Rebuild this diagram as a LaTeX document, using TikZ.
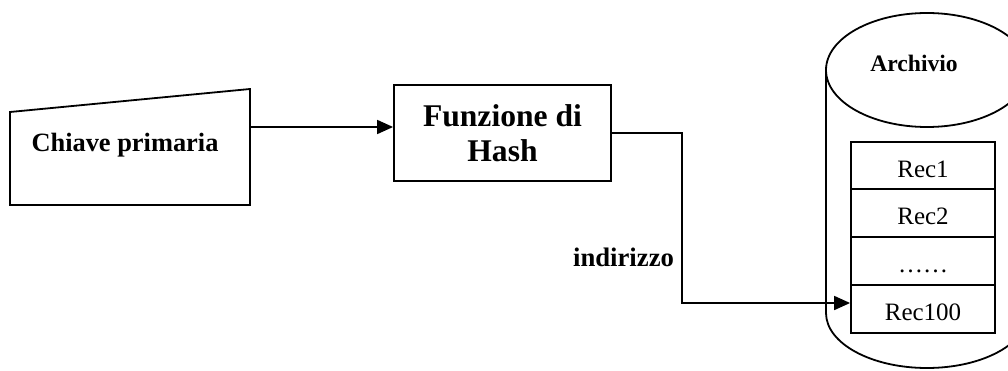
\documentclass[tikz,border=0pt]{standalone}
\usepackage{fontspec}
\setmainfont{Liberation Serif}
\usetikzlibrary{arrows.meta}
\tikzset{
  line/.style={line width=1.8pt, line join=miter},
  arr/.style={line, -{Triangle[length=16pt,width=14pt]}},
  lbl/.style={inner sep=0pt, font=\bfseries},
  recbox/.style={draw, line width=1.8pt, minimum width=144pt, minimum height=47.7pt,
                 inner sep=0pt, text height=23pt, text depth=0pt,
                 font=\fontsize{25}{28}\selectfont},
}
\begin{document}
\begin{tikzpicture}[x=1pt,y=1pt]
  \useasboundingbox (0,0) rectangle (1008,370);
  \clip (0,0) rectangle (1008,370);

  % manual-input shape holding the primary key
  \coordinate (ktl) at (10,258);
  \coordinate (ktr) at (250,281);
  \coordinate (kbr) at (250,165);
  \coordinate (kbl) at (10,165);
  \draw[line] (ktl) -- (ktr) -- (kbr) -- (kbl) -- cycle;
  \node[lbl, font=\bfseries\fontsize{26.4}{30}\selectfont] (key) at (125,225) {Chiave primaria};
  \coordinate (kout) at (250,243);

  % hash function box
  \node[draw, line width=1.8pt, minimum width=217pt, minimum height=96pt, inner sep=0pt,
        align=center, font=\bfseries\fontsize{31.6}{35}\selectfont] (hash) at (502.5,237)
        {Funzione di\\Hash};

  % archive cylinder
  \draw[line] (927,300) ellipse [x radius=101, y radius=57];
  \draw[line] (826,300) -- (826,57) arc[start angle=180, end angle=360, x radius=101, y radius=55]
              -- (1028,300);
  \node[lbl, font=\bfseries\fontsize{23.6}{27}\selectfont] (arch) at (914,307) {Archivio};

  % records inside the archive
  \node[recbox] (rec1)   at (923,204.5) {Rec1};
  \node[recbox] (rec2)   at (923,157)   {Rec2};
  \node[recbox] (recdot) at (923,109)   {……};
  \node[recbox] (rec100) at (923,61)    {Rec100};

  % connectors
  \draw[arr] (kout) -- (kout -| hash.west);
  \coordinate (t1) at (682,237);
  \coordinate (t2) at (682,67);
  \draw[arr] (hash.east |- t1) -- (t1) -- (t2) -- (t2 -| rec100.west);
  \node[lbl, font=\bfseries\fontsize{26.7}{30}\selectfont] (addr) at (623.5,113) {indirizzo};
\end{tikzpicture}
\end{document}
